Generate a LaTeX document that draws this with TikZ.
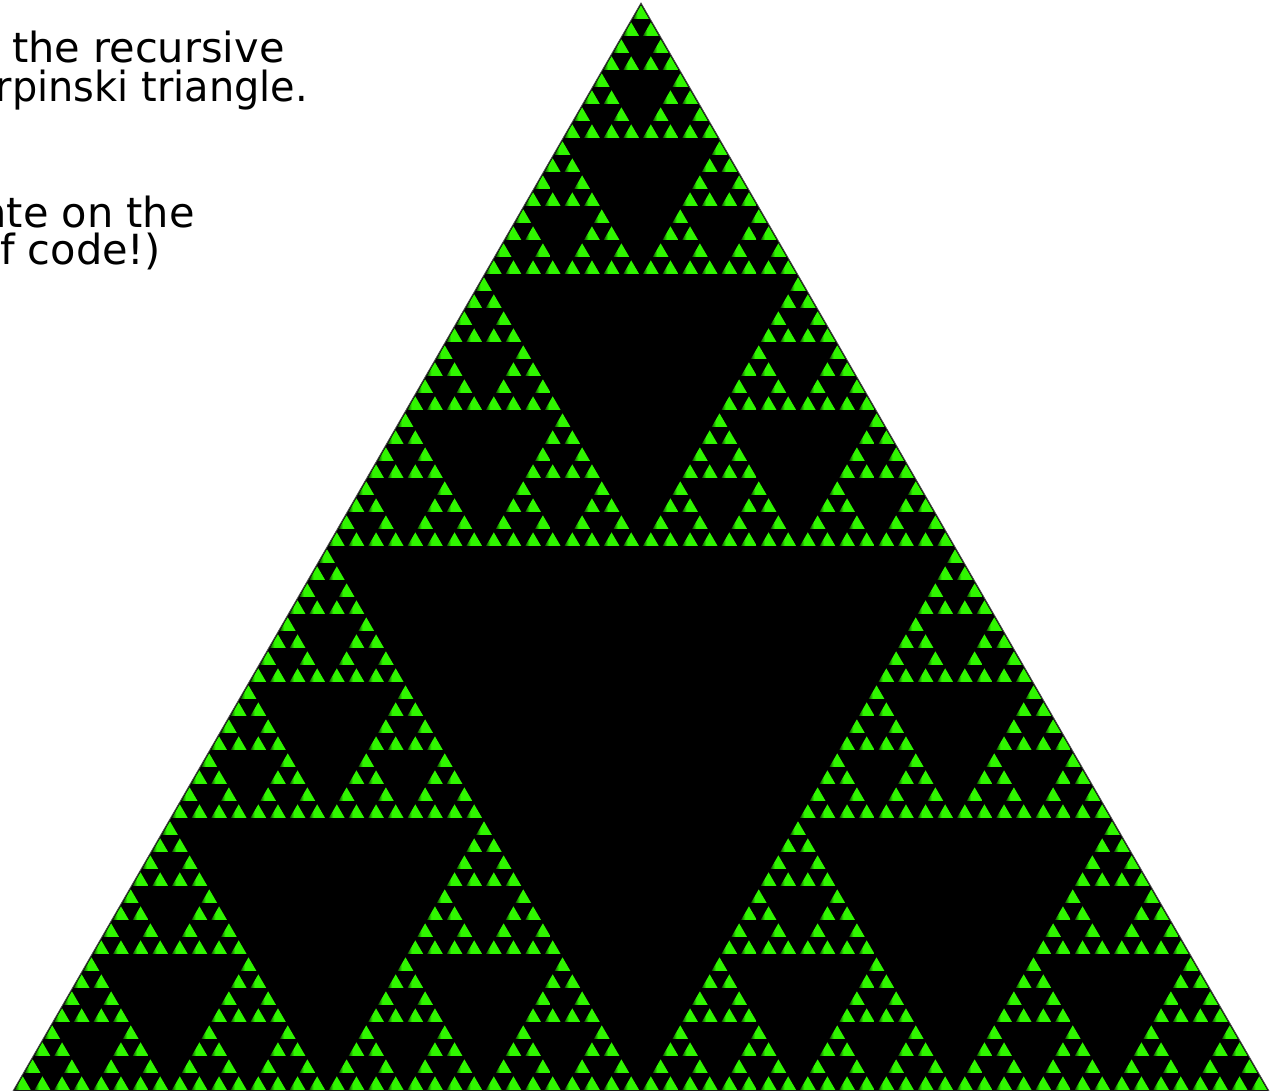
\documentclass[tikz,border=0pt]{standalone}
\usepackage{fontspec}
\setmainfont{DejaVu Sans}
\definecolor{leafgreen}{RGB}{48,246,0}
\definecolor{leafdark}{RGB}{16,84,0}
\pgfdeclarehorizontalshading{leafshade}{100bp}{color(0bp)=(leafdark); color(25bp)=(leafdark); color(38bp)=(leafgreen); color(100bp)=(leafgreen)}
\newcount\sdepth
% one leaf: green triangle inset inside a cell whose apex is the local origin
\newcommand\sierleaf{\shade[shading=leafshade] (0,150) -- (-500,1012) -- (500,1012) -- cycle;}
\newcommand\sierstep{%
  \ifnum\sdepth=0 \sierleaf
  \else
    \begin{scope}[scale=0.5]\advance\sdepth by -1 \sierstep\end{scope}%
    \begin{scope}[shift={(-314,544)},scale=0.5]\advance\sdepth by -1 \sierstep\end{scope}%
    \begin{scope}[shift={(314,544)},scale=0.5]\advance\sdepth by -1 \sierstep\end{scope}%
  \fi}
\tikzset{txt/.style={font=\fontsize{41.5}{50}\selectfont, inner sep=0pt, text=black}}
\begin{document}
\begin{tikzpicture}[x=1pt,y=-1pt]
\useasboundingbox (0,0) rectangle (1281,1091);
\clip (0,0) rectangle (1281,1091);
% text (cut by the left edge, as in the reference)
\node[txt, anchor=base west] (l1) at (12,63) {the recursive};
\node[txt, anchor=base east] (l2) at (308,102) {\scalebox{0.96}[1]{rpinski triangle.}};
\node[txt, anchor=base east] (l4) at (195,228) {nte on the};
\node[txt, anchor=base east] (l5) at (161,265) {f code!)};
% Sierpinski triangle
\begin{scope}[shift={(641,3)}]
  \fill[black] (0,0) -- (-628,1088) -- (628,1088) -- cycle;
  \draw[black!70, line width=0.8pt] (0,0) -- (-628,1088) -- (628,1088) -- cycle;
  \sdepth=6
  \sierstep
\end{scope}
\end{tikzpicture}
\end{document}
